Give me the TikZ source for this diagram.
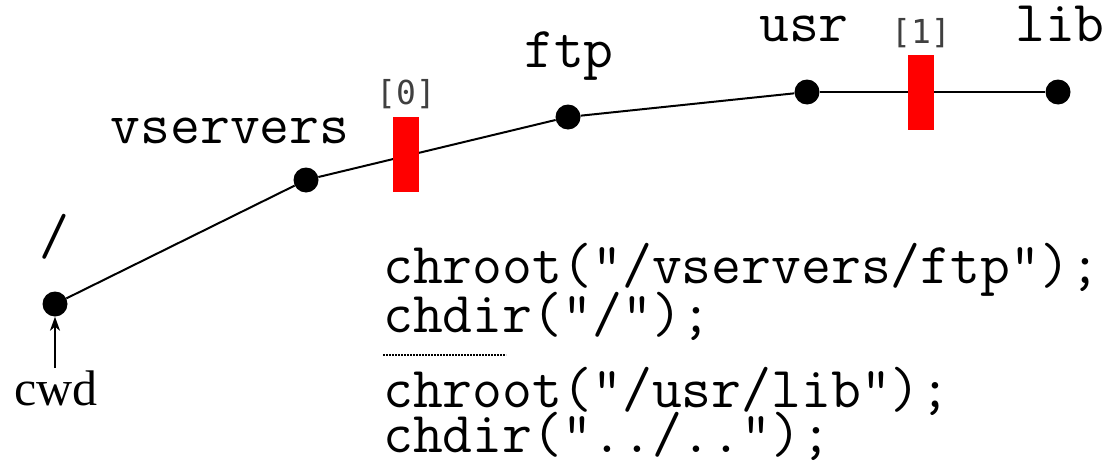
\documentclass[tikz,border=0pt]{standalone}
\usepackage{fontspec}
\setmainfont{Liberation Serif}
\newfontfamily\djmono{DejaVu Sans Mono}
\usetikzlibrary{arrows.meta}
\begin{document}
\begin{tikzpicture}[x=1pt,y=-1pt,
  dot/.style={circle,fill=black,inner sep=0pt,minimum size=25pt},
  lbl/.style={inner sep=0pt,anchor=base,text height=34pt,text depth=8pt,font=\fontsize{58}{60}\selectfont\ttfamily},
  codeln/.style={inner sep=0pt,anchor=base west,text height=34pt,text depth=8pt,font=\fontsize{58}{60}\selectfont\ttfamily},
  idx/.style={inner sep=0pt,anchor=base,text=black!75,font=\fontsize{33}{36}\selectfont\djmono},
  bar/.style={fill=red,inner sep=0pt,minimum width=26pt,minimum height=75pt},
  edge/.style={line width=2pt}]
\useasboundingbox (0,0) rectangle (1105,463);
% dots
\node[dot] (root) at (55,304) {};
\node[dot] (vs) at (306,180) {};
\node[dot] (ftp) at (568,117) {};
\node[dot] (usr) at (807,92) {};
\node[dot] (lib) at (1058,92) {};
% edges
\draw[edge] (root) -- (vs);
\draw[edge] (vs) -- (ftp);
\draw[edge] (ftp) -- (usr);
\draw[edge] (usr) -- (lib);
% red bars
\node[bar] (b0) at (406,154.5) {};
\node[bar] (b1) at (921,92) {};
% labels
\node[lbl] (lroot) at (54,254) {/};
\node[lbl] (lvs) at (230,143) {vservers};
\node[lbl] (lftp) at (569,67) {ftp};
\node[lbl] (lusr) at (804,41) {usr};
\node[lbl] (llib) at (1060,41) {lib};
\node[idx] (i0) at (406,104) {[0]};
\node[idx] (i1) at (921,43) {[1]};
% cwd
\node[inner sep=0pt,anchor=base,font=\fontsize{50}{55}\selectfont] (cwd) at (56,405) {cwd};
\coordinate (cwdtop) at (55,368);
\draw[line width=2pt,-{Stealth[length=14pt,width=10pt,inset=4pt]}] (cwdtop) -- (root);
% code
\node[codeln] (c1) at (383,283) {chroot("/vservers/ftp");};
\node[codeln] (c2) at (383,332) {chdir("/");};
\node[codeln] (c3) at (383,407) {chroot("/usr/lib");};
\node[codeln] (c4) at (383,452) {chdir("../..");};
\draw[line width=1.2pt,dash pattern=on 2pt off 1pt] (383,355) -- (506,355);
\end{tikzpicture}
\end{document}
